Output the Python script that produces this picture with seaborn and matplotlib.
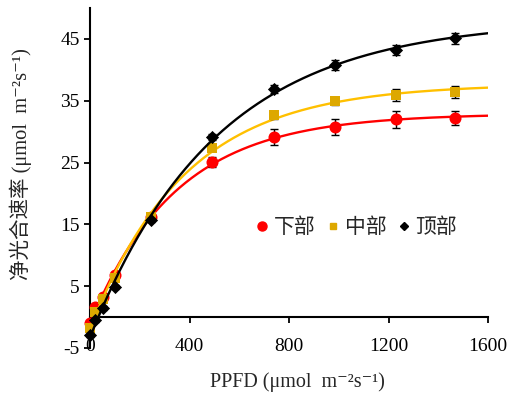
import numpy as np
import matplotlib
matplotlib.use('Agg')
import matplotlib.pyplot as plt
from matplotlib.lines import Line2D
import seaborn as sns

# PPFD levels (umol m-2 s-1)
ppfd = [0, 20, 52, 100, 245, 490, 738, 985, 1230, 1468]

# net photosynthetic rate for lower / middle / top leaves
pn_lower = [-1.0, 1.6, 3.3, 6.8, 16.2, 25.1, 29.1, 30.8, 32.0, 32.2]
pn_middle = [-1.8, 0.8, 2.9, 6.3, 16.2, 27.3, 32.7, 34.9, 35.9, 36.4]
pn_top = [-2.9, -0.5, 1.5, 4.9, 15.7, 29.1, 36.9, 40.8, 43.2, 45.1]

# error bars
se_lower = [0.3, 0.3, 0.3, 0.4, 0.4, 0.8, 1.3, 1.3, 1.4, 1.2]
se_middle = [0.3, 0.3, 0.3, 0.3, 0.3, 0.5, 0.6, 0.6, 1.0, 1.0]
se_top = [0.3, 0.3, 0.3, 0.3, 0.3, 0.5, 0.7, 0.8, 0.8, 0.9]

labels = ['下部', '中部', '顶部']

sns.set_style('ticks')
plt.rcParams['font.family'] = ['Liberation Serif', 'Noto Sans CJK SC', 'DejaVu Serif']
plt.rcParams['axes.unicode_minus'] = False


def fit_curve(x, y, xs):
    # exponential light-response fit: y = a*(1-exp(-k*x)) + c
    x = np.asarray(x, float)
    y = np.asarray(y, float)
    best = None
    for k in np.linspace(0.0005, 0.01, 600):
        A = np.column_stack([1 - np.exp(-k * x), np.ones_like(x)])
        coef = np.linalg.lstsq(A, y, rcond=None)[0]
        sse = np.sum((A @ coef - y) ** 2)
        if best is None or sse < best[0]:
            best = (sse, k, coef)
    _, k, (a, c) = best
    return a * (1 - np.exp(-k * xs)) + c


fig = plt.figure(figsize=(5.11, 3.99), dpi=100)
ax = fig.add_axes([90 / 511, 1 - 348 / 399, (488 - 90) / 511, (348 - 8) / 399])

xs = np.linspace(0, 1600, 400)
series = [
    (pn_lower, se_lower, '#FF0000', '#FF0000', 'o', 75),
    (pn_middle, se_middle, '#FFC000', '#DDA800', 's', 60),
    (pn_top, se_top, '#000000', '#000000', 'D', 45),
]
for i, (pn, se, lc, mc, mk, size) in enumerate(series):
    z = 3 + i * 3
    sns.lineplot(x=xs, y=fit_curve(ppfd, pn, xs), color=lc, lw=1.7, ax=ax, zorder=z)
    ax.errorbar(ppfd, pn, yerr=se, fmt='none', ecolor='black', elinewidth=1,
                capsize=3.2, capthick=1, zorder=z + 1, clip_on=False)
    sns.scatterplot(x=ppfd, y=pn, marker=mk, s=size, color=mc, linewidth=0,
                    ax=ax, zorder=z + 2, clip_on=False)

ax.set_xlim(0, 1600)
ax.set_ylim(-5, 50)
ax.set_xticks([0, 400, 800, 1200, 1600])
ax.set_yticks([-5, 5, 15, 25, 35, 45])
ax.spines['top'].set_visible(False)
ax.spines['right'].set_visible(False)
ax.spines['bottom'].set_position(('data', 0))
for sp in ['left', 'bottom']:
    ax.spines[sp].set_linewidth(1.5)
    ax.spines[sp].set_color('black')
ax.tick_params(axis='both', direction='out', length=4, width=1.3, labelsize=14, colors='black')
ax.tick_params(axis='x', pad=11)

ax.set_xlabel('PPFD (μmol  m⁻²s⁻¹)', fontsize=14.5)
ax.xaxis.set_label_coords(0.522, -0.072)
ax.set_ylabel('净光合速率 (μmol  m⁻²s⁻¹)', fontsize=14.8)
ax.yaxis.set_label_coords(-0.145, 0.54)

handles = [
    Line2D([], [], ls='none', marker='o', color='#FF0000', markersize=6.5),
    Line2D([], [], ls='none', marker='s', color='#DDA800', markersize=5),
    Line2D([], [], ls='none', marker='D', color='#000000', markersize=4.5),
]
leg = ax.legend(handles, labels, ncol=3, frameon=False, loc='center',
                bbox_to_anchor=(0.67, 0.356), handlelength=0.6, handletextpad=0.25,
                columnspacing=0.55, prop={'family': 'Noto Sans CJK SC', 'size': 15})

fig.savefig('out.png', dpi=100)
